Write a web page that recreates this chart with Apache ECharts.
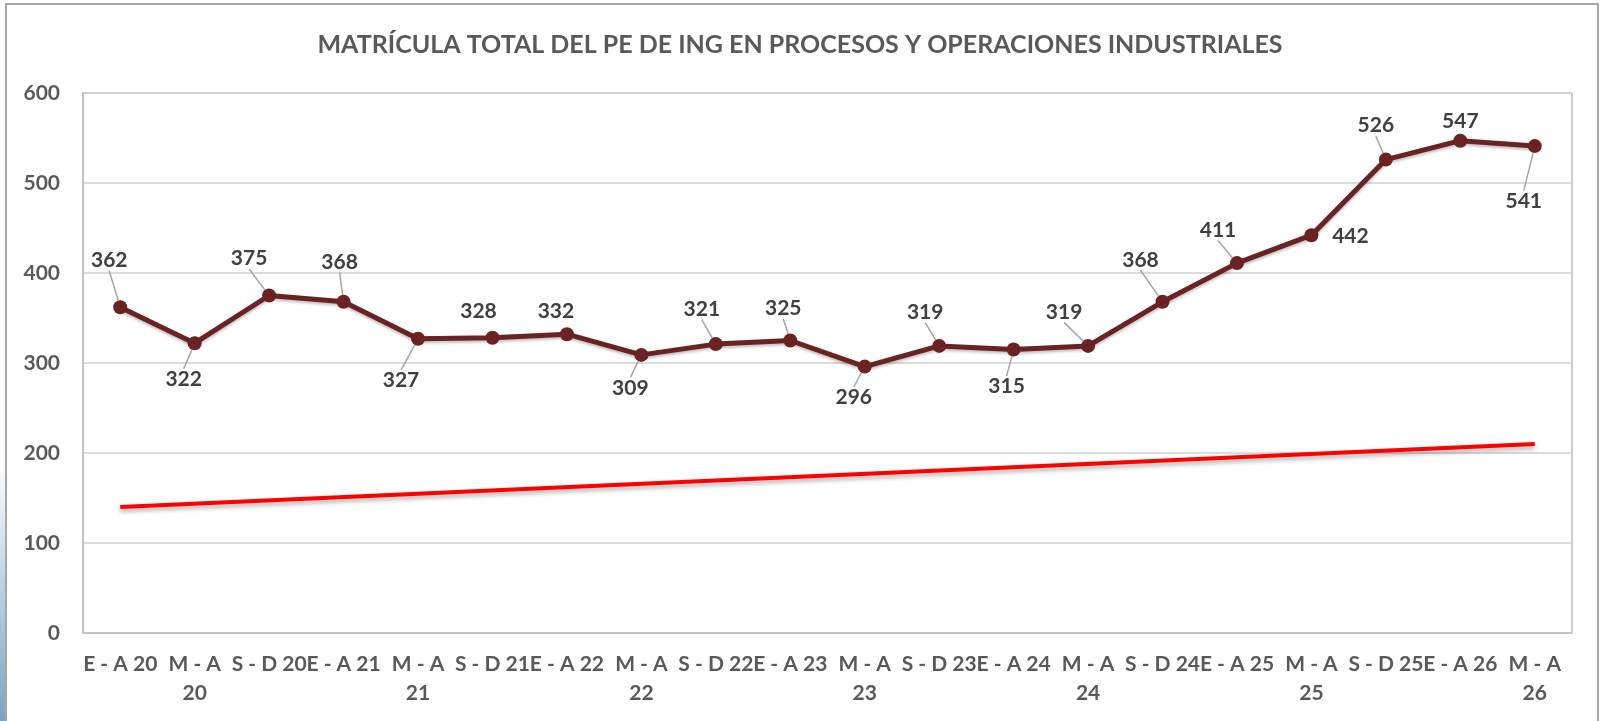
<!DOCTYPE html>
<html>
<head>
<meta charset="utf-8">
<title>Matrícula total</title>
<script src="https://cdn.jsdelivr.net/npm/echarts@6/dist/echarts.min.js"></script>
<style>
html, body { margin: 0; padding: 0; background: #fff; }
#main { width: 1600px; height: 721px; }
</style>
</head>
<body>
<div id="main"></div>
<script>
// datos
var periodos = ['E - A 20', 'M - A 20', 'S - D 20', 'E - A 21', 'M - A 21', 'S - D 21',
	'E - A 22', 'M - A 22', 'S - D 22', 'E - A 23', 'M - A 23', 'S - D 23',
	'E - A 24', 'M - A 24', 'S - D 24', 'E - A 25', 'M - A 25', 'S - D 25',
	'E - A 26', 'M - A 26'];
var matricula = [362, 322, 375, 368, 327, 328, 332, 309, 321, 325, 296, 319,
	315, 319, 368, 411, 442, 526, 547, 541];
// linea de tendencia: valor al inicio y al final
var tendencia = [140, 210];
var yTicks = [0, 100, 200, 300, 400, 500, 600];

// posicion de cada etiqueta respecto a su punto (px)
var labelOffsets = [[-11, -47], [-11, 36], [-20, -37], [-4, -40], [-17, 42], [-14, -27],
	[-11, -23], [-11, 33], [-14, -35], [-7, -32], [-11, 31], [-14, -34],
	[-7, 37], [-24, -34], [-22, -42], [-19, -33], [39, 1], [-10, -34],
	[0, -19], [-11, 55]];
var sinGuia = [5, 6, 16, 18];

var fuente = 'Lato, "Liberation Sans", sans-serif';

var datosLinea = [];
for (var i = 0; i < matricula.length; i++) {
	var item = { value: matricula[i] };
	if (sinGuia.indexOf(i) >= 0) {
		item.labelLine = { show: false };
	}
	datosLinea.push(item);
}

var myChart = echarts.init(document.getElementById('main'));
var option = {
	backgroundColor: '#fff',
	animation: false,
	title: {
		text: 'MATRÍCULA TOTAL DEL PE DE ING EN PROCESOS Y OPERACIONES INDUSTRIALES',
		left: 'center',
		top: 27,
		textStyle: {
			color: '#595959',
			fontFamily: fuente,
			fontWeight: 'bold',
			fontSize: 25
		}
	},
	graphic: [{
		type: 'rect',
		shape: { x: 0, y: 460, width: 6, height: 261 },
		style: {
			fill: new echarts.graphic.LinearGradient(0, 0, 0, 1, [
				{ offset: 0, color: '#ffffff' },
				{ offset: 0.5, color: '#b8d0e3' },
				{ offset: 1, color: '#7ba3c6' }
			])
		},
		silent: true
	}, {
		type: 'rect',
		shape: { x: 6, y: 4, width: 1592, height: 760 },
		style: { fill: 'none', stroke: '#a6a6a6', lineWidth: 2 },
		silent: true
	}],
	grid: {
		left: 83,
		right: 28,
		top: 93,
		bottom: 88,
		show: true,
		borderColor: '#bfbfbf',
		borderWidth: 1.5
	},
	xAxis: {
		type: 'category',
		data: periodos,
		boundaryGap: true,
		axisLine: { lineStyle: { color: '#bfbfbf', width: 1.5 } },
		axisTick: { show: false },
		axisLabel: {
			interval: 0,
			margin: 17,
			color: '#595959',
			fontFamily: fuente,
			fontWeight: 'bold',
			fontSize: 21,
			lineHeight: 29,
			formatter: function (v) {
				return v.replace('M - A ', 'M - A\n');
			}
		}
	},
	yAxis: {
		type: 'value',
		min: yTicks[0],
		max: yTicks[yTicks.length - 1],
		interval: 100,
		axisLine: { show: true, lineStyle: { color: '#bfbfbf', width: 1.5 } },
		axisTick: { show: false },
		splitLine: { lineStyle: { color: '#d0d0d0', width: 1.5 } },
		axisLabel: {
			margin: 23,
			color: '#595959',
			fontFamily: fuente,
			fontWeight: 'bold',
			fontSize: 21
		}
	},
	series: [{
		name: 'Tendencia',
		type: 'line',
		data: [[0, tendencia[0]], [periodos.length - 1, tendencia[1]]],
		symbol: 'none',
		silent: true,
		lineStyle: {
			color: '#ff0000',
			width: 4,
			shadowColor: 'rgba(0,0,0,0.3)',
			shadowBlur: 4,
			shadowOffsetY: 3
		},
		z: 2
	}, {
		name: 'Matrícula',
		type: 'line',
		data: datosLinea,
		symbol: 'circle',
		symbolSize: 14,
		itemStyle: { color: '#6b2222' },
		lineStyle: {
			color: '#6b2222',
			width: 5,
			shadowColor: 'rgba(0,0,0,0.25)',
			shadowBlur: 3,
			shadowOffsetY: 2
		},
		label: {
			show: true,
			position: 'top',
			color: '#404040',
			fontFamily: fuente,
			fontWeight: 'bold',
			fontSize: 21
		},
		labelLine: {
			show: true,
			lineStyle: { color: '#a6a6a6', width: 1.5 }
		},
		labelLayout: function (params) {
			var off = labelOffsets[params.dataIndex];
			return {
				x: params.rect.x + params.rect.width / 2 + off[0],
				y: params.rect.y + params.rect.height / 2 + off[1],
				align: 'center',
				verticalAlign: 'middle'
			};
		},
		z: 3
	}]
};
myChart.setOption(option);
</script>
</body>
</html>
